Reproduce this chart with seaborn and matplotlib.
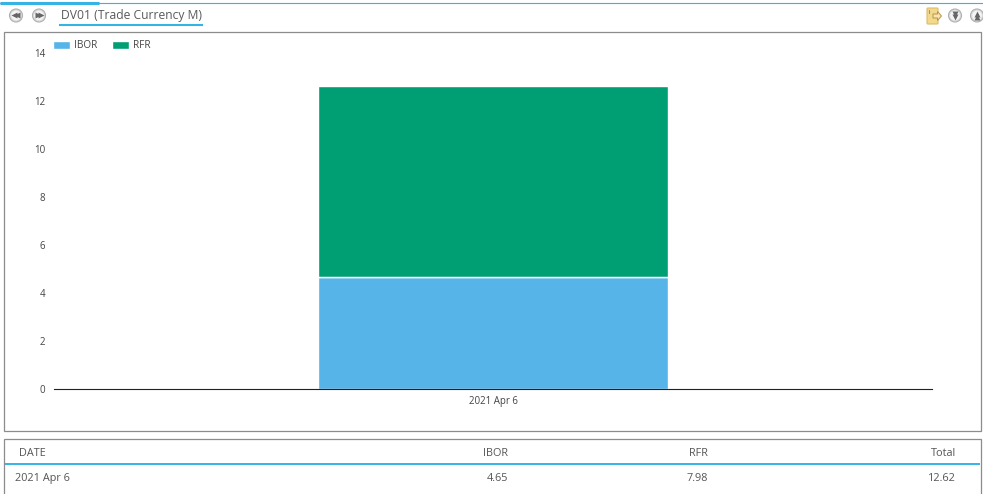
import matplotlib
matplotlib.use('Agg')
import matplotlib.pyplot as plt
import matplotlib.patches as mpatches
import seaborn as sns

# chart values
dates = ['2021 Apr 6']
ibor = [4.65]
rfr = [7.98]
total = [12.62]
yticks = [0, 2, 4, 6, 8, 10, 12, 14]

W, H = 983, 494
BLUE = '#56B4E9'
GREEN = '#009E73'
LINE = '#35B3E5'
FRAME = '#8C8C8C'
TEXT = '#555555'

sns.set_theme(style='white')
plt.rcParams['font.family'] = ['Open Sans', 'DejaVu Sans']

fig = plt.figure(figsize=(W / 100, H / 100), dpi=100, facecolor='white')

# page furniture lives on an overlay in pixel coordinates
page = fig.add_axes([0, 0, 1, 1], zorder=0)
page.set_xlim(0, W)
page.set_ylim(H, 0)
page.axis('off')

page.plot([0, W], [3.5, 3.5], color=LINE, lw=0.8)
page.plot([0, 99], [3, 3], color=LINE, lw=2.2, solid_capstyle='butt')
page.plot([59, 203], [25, 25], color=LINE, lw=1.5, solid_capstyle='butt')
page.text(61, 15, 'DV01 (Trade Currency M)', fontsize=8.7, color='#5A5A5A', va='center')


def round_button(x, y, kind):
    page.add_patch(mpatches.Circle((x, y), 6.5, fc='#DCDCDC', ec='#B0B0B0', lw=0.8))
    page.add_patch(mpatches.Circle((x, y), 4.8, fc='#F5F5F5', ec='none'))
    # two chevrons side by side or stacked
    if kind == 'rew':
        marks, dx, dy = ('<', '<'), (-2, 1.2), (0, 0)
    elif kind == 'fwd':
        marks, dx, dy = ('>', '>'), (-1.2, 2), (0, 0)
    elif kind == 'down':
        marks, dx, dy = ('v', 'v'), (0, 0), (-1.6, 1.6)
    else:
        marks, dx, dy = ('^', '^'), (0, 0), (-1.6, 1.6)
    for m, a, b in zip(marks, dx, dy):
        page.plot(x + a, y + b, m, ms=3.8, color='#666666', mec='none')


round_button(16, 15.5, 'rew')
round_button(39, 15.5, 'fwd')
round_button(955, 15.5, 'down')
round_button(977, 15.5, 'up')

# export icon
page.add_patch(mpatches.FancyBboxPatch((927.5, 8.5), 10, 15, boxstyle='round,pad=0.5,rounding_size=1',
                                       fc='#F3D98B', ec='#DDBB66', lw=0.8))
page.plot([928.5, 928.5], [10, 13], color='#5AA5D8', lw=0.8)
page.add_patch(mpatches.Polygon([[933, 14], [937.5, 14], [937.5, 11.5], [941.5, 16], [937.5, 20.5], [937.5, 18], [933, 18]],
                                closed=True, fc='#F8E6AE', ec='#B8924A', lw=0.7))

# chart and table frames
page.add_patch(mpatches.Rectangle((4, 32), 976.5, 398.5, fc='white', ec=FRAME, lw=0.9))
page.add_patch(mpatches.Rectangle((4, 439), 976.5, 60, fc='white', ec=FRAME, lw=0.9))

# table
page.plot([5, 980], [464, 464], color=LINE, lw=1.4, solid_capstyle='butt')
rows_y = [453, 478]
page.text(19, rows_y[0], 'DATE', fontsize=7.8, color=TEXT, va='center')
page.text(15, rows_y[1], dates[0], fontsize=7.8, color=TEXT, va='center')
columns = [('IBOR', ibor, 508), ('RFR', rfr, 708), ('Total', total, 956)]
for name, vals, right in columns:
    page.text(right, rows_y[0], name, fontsize=7.8, color=TEXT, va='center', ha='right')
    page.text(right, rows_y[1], f'{vals[0]:.2f}', fontsize=7.8, color=TEXT, va='center', ha='right')

# the chart itself
ax = fig.add_axes([54 / W, 1 - 389 / H, (932 - 54) / W, (389 - 53) / H], zorder=1)
ax.patch.set_alpha(0)
sns.barplot(x=dates, y=ibor, color=BLUE, saturation=1, width=0.399, ax=ax, label='IBOR')
sns.barplot(x=dates, y=rfr, bottom=ibor, color=GREEN, saturation=1, width=0.399, ax=ax, label='RFR')
ax.plot([-0.1995, 0.1995], [ibor[0], ibor[0]], color='white', lw=0.8)

ax.set_xlim(-0.5, 0.5)
ax.set_ylim(0, 14)
ax.set_yticks(yticks)
ax.set_xlabel('')
ax.set_ylabel('')
sns.despine(ax=ax, left=True, top=True, right=True)
ax.spines['bottom'].set_color('#222222')
ax.spines['bottom'].set_linewidth(0.8)
ax.tick_params(axis='both', length=0, labelsize=7, labelcolor='#444444')
ax.tick_params(axis='x', pad=5)
ax.tick_params(axis='y', pad=6.5)

ax.legend(loc='upper left', bbox_to_anchor=(-0.001, 1.038), ncol=2, frameon=False, fontsize=7.2,
          handlelength=1.7, handleheight=0.85, handletextpad=0.4, columnspacing=1.5,
          borderaxespad=0, borderpad=0, labelcolor='#444444')

fig.savefig('out.png', dpi=100, facecolor='white')
